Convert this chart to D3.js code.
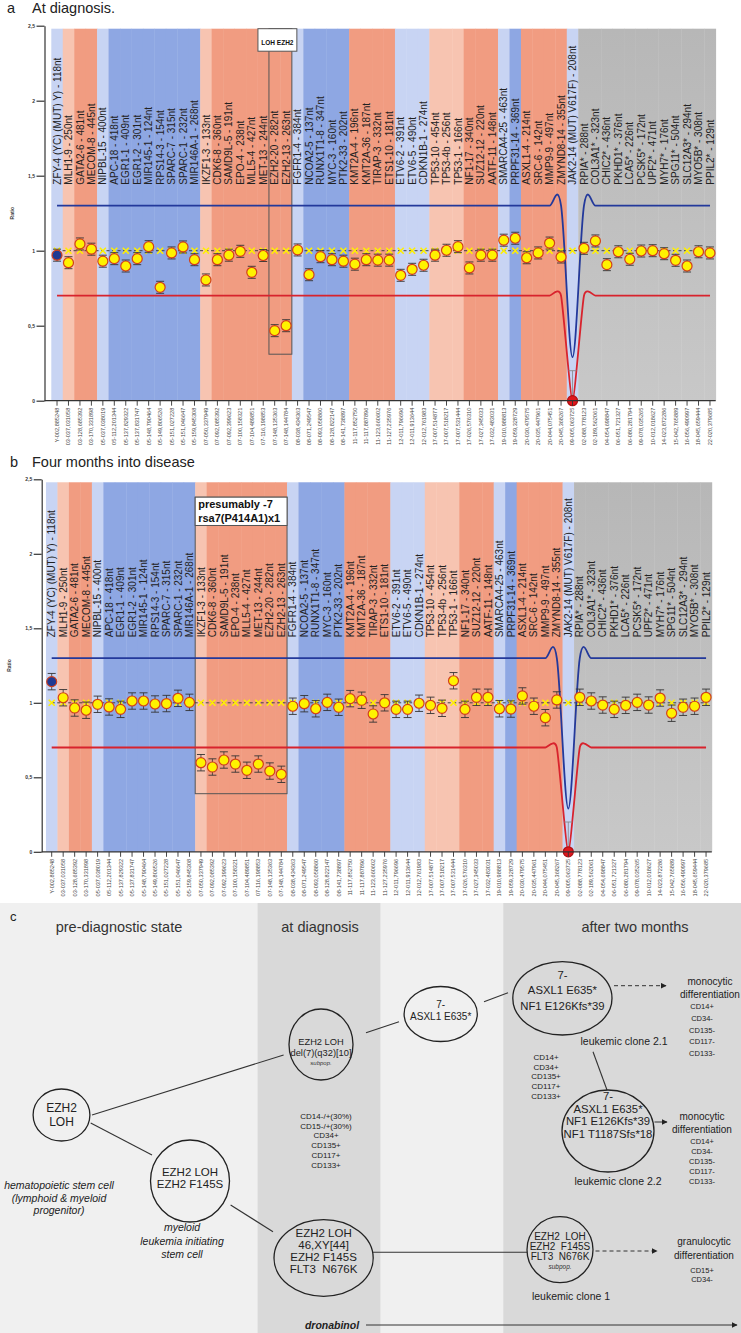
<!DOCTYPE html>
<html><head><meta charset="utf-8">
<script src="https://cdn.jsdelivr.net/npm/d3@7"></script>
<style>
body{margin:0;background:#fff}
svg{display:block}
text{font-family:"Liberation Sans",Arial,Helvetica,sans-serif}
</style>
</head><body>
<svg id="chart" width="741" height="1333"></svg>
<script>
// ---------------- DATA ----------------
const probes = ["ZFY-4 (YC) (MUT) Y) - 118nt","MLH1-9 - 250nt","GATA2-6 - 481nt","MECOM-8 - 445nt","NIPBL-15 - 400nt","APC-18 - 418nt","EGR1-1 - 409nt","EGR1-2 - 301nt","MIR145-1 - 124nt","RPS14-3 - 154nt","SPARC-7 - 315nt","SPARC-1 - 232nt","MIR146A-1 - 268nt","IKZF1-3 - 133nt","CDK6-8 - 360nt","SAMD9L-5 - 191nt","EPO-4 - 238nt","MLL5-4 - 427nt","MET-13 - 244nt","EZH2-20 - 282nt","EZH2-13 - 263nt","FGFR1-4 - 384nt","NCOA2-5 - 137nt","RUNX1T1-8 - 347nt","MYC-3 - 160nt","PTK2-33 - 202nt","KMT2A-4 - 196nt","KMT2A-36 - 187nt","TIRAP-3 - 332nt","ETS1-10 - 181nt","ETV6-2 - 391nt","ETV6-5 - 490nt","CDKN1B-1 - 274nt","TP53-10 - 454nt","TP53-4b - 256nt","TP53-1 - 166nt","NF1-17 - 340nt","SUZ12-12 - 220nt","AATF-11 - 148nt","SMARCA4-25 - 463nt","PRPF31-14 - 369nt","ASXL1-4 - 214nt","SRC-6 - 142nt","MMP9-9 - 497nt","ZMYND8-14 - 355nt","JAK2-14 (MUT) V617F) - 208nt","RPIA* - 288nt","COL3A1* - 323nt","CHIC2* - 436nt","PKHD1* - 376nt","LCA5* - 226nt","PCSK5* - 172nt","UPF2* - 471nt","MYH7* - 176nt","SPG11* - 504nt","SLC12A3* - 294nt","MYO5B* - 308nt","PPIL2* - 129nt"];

const chromPos = ["Y-002,885248","03-037,031058","03-128,685392","03-170,331898","05-037,038019","05-112,201344","05-137,829322","05-137,831747","05-148,790464","05-149,806526","05-151,027228","05-151,046647","05-159,845308","07-050,337949","07-092,085392","07-092,399623","07-100,158321","07-104,489851","07-116,198853","07-148,135363","07-148,144784","08-038,434363","08-071,249547","08-093,058860","08-128,822147","08-141,738897","11-117,852750","11-117,887896","11-123,660602","11-127,235976","12-011,796696","12-011,913644","12-012,761983","17-007,514877","17-007,518217","17-007,531444","17-026,576310","17-027,345033","17-032,483031","19-010,988813","19-059,328729","20-030,479575","20-035,447961","20-044,075451","20-045,368267","09-005,063725","02-088,778123","02-189,562061","04-054,698847","06-051,721327","06-080,281794","09-078,035265","10-012,018627","14-023,872286","15-042,765889","16-056,490997","18-045,659444","22-020,379685"];

const bandType = ["lb","ls","s","s","lb","b","b","b","b","b","b","b","b","ls","s","s","s","s","s","s","s","lb","b","b","b","b","s","s","s","s","lb","lb","lb","ls","ls","ls","s","s","s","lb","b","s","s","s","s","lb","g","g","g","g","g","g","g","g","g","g","g","g"];

const ratioA = [0.97,0.92,1.045,1.01,0.93,0.947,0.898,0.947,1.027,0.756,0.985,1.025,0.94,0.805,0.94,0.97,0.996,0.856,0.968,0.467,0.50,1.005,0.84,0.96,0.94,0.93,0.91,0.94,0.937,0.937,0.836,0.876,0.903,0.97,1.003,1.027,0.885,0.97,0.97,1.07,1.083,0.953,0.985,1.051,0.958,0,1.016,1.065,0.907,0.993,0.943,0.998,1.0,0.98,0.936,0.898,0.993,0.985];

const ratioB = [1.142,1.034,0.965,0.95,0.99,0.972,0.956,1.012,1.012,0.992,0.995,1.03,1.003,0.598,0.569,0.616,0.589,0.547,0.589,0.542,0.52,0.977,0.994,0.96,1.003,0.97,1.028,1.017,0.925,1.0,0.956,0.956,0.997,0.983,0.963,1.148,0.956,1.037,1.037,0.96,0.958,1.046,0.977,0.9,1.019,0,1.037,1.012,0.985,0.956,0.983,1.003,0.985,1.032,0.93,0.97,0.977,1.037];

const upperLimit = [1.3,1.3,1.3,1.3,1.3,1.3,1.3,1.3,1.3,1.3,1.3,1.3,1.3,1.3,1.3,1.3,1.3,1.3,1.3,1.3,1.3,1.3,1.3,1.3,1.3,1.3,1.3,1.3,1.3,1.3,1.3,1.3,1.3,1.3,1.3,1.3,1.3,1.3,1.3,1.3,1.3,1.3,1.3,1.3,1.3,0.29,1.3,1.3,1.3,1.3,1.3,1.3,1.3,1.3,1.3,1.3,1.3,1.3];
const lowerLimit = [0.7,0.7,0.7,0.7,0.7,0.7,0.7,0.7,0.7,0.7,0.7,0.7,0.7,0.7,0.7,0.7,0.7,0.7,0.7,0.7,0.7,0.7,0.7,0.7,0.7,0.7,0.7,0.7,0.7,0.7,0.7,0.7,0.7,0.7,0.7,0.7,0.7,0.7,0.7,0.7,0.7,0.7,0.7,0.7,0.7,0,0.7,0.7,0.7,0.7,0.7,0.7,0.7,0.7,0.7,0.7,0.7,0.7];

const yTicks = [0,0.5,1,1.5,2,2.5];
const errA = 0.04, errB = 0.055, errJak = 0.2;

// panel c content
const cHeaders = ["pre-diagnostic state","at diagnosis","after two months"];
const cNodes = [
  {id:"loh",   lines:["EZH2","LOH"]},
  {id:"f145s", lines:["EZH2 LOH","EZH2 F145S"]},
  {id:"del7",  lines:["EZH2 LOH","del(7)(q32)[10]"], sub:"subpop."},
  {id:"diag",  lines:["EZH2 LOH","46,XY[44]","EZH2 F145S","FLT3  N676K"]},
  {id:"asxl",  lines:["7-","ASXL1 E635*"]},
  {id:"c21",   lines:["7-","ASXL1 E635*","NF1 E126Kfs*39"]},
  {id:"c22",   lines:["7-","ASXL1 E635*","NF1 E126Kfs*39","NF1 T1187Sfs*18"]},
  {id:"c1",    lines:["EZH2  LOH","EZH2  F145S","FLT3  N676K"], sub:"subpop."}
];
const cdDiag = ["CD14-/+(30%)","CD15-/+(30%)","CD34+","CD135+","CD117+","CD133+"];
const cdClone2 = ["CD14+","CD34+","CD135+","CD117+","CD133+"];
const cdMono = ["CD14+","CD34-","CD135-","CD117-","CD133-"];
const cdGran = ["CD15+","CD34-"];

// ---------------- STYLE ----------------
const bandColor = {lb:"#c8d4f3", b:"#8ea7e3", ls:"#f7c4b1", s:"#f19c81", g:"url(#grayGrad)"};
const svg = d3.select("#chart");
const defs = svg.append("defs");
const gg = defs.append("linearGradient").attr("id","grayGrad").attr("x1",0).attr("y1",0).attr("x2",0).attr("y2",1);
gg.append("stop").attr("offset","0%").attr("stop-color","#b7b7b7");
gg.append("stop").attr("offset","100%").attr("stop-color","#c8c8c8");
defs.append("marker").attr("id","ah").attr("viewBox","0 0 10 10").attr("refX",9).attr("refY",5)
  .attr("markerWidth",6).attr("markerHeight",6).attr("orient","auto")
  .append("path").attr("d","M0,0L10,5L0,10z").attr("fill","#222");

function panel(cfg){
  const g = svg.append("g");
  const x = d3.scaleBand().domain(probes).range(cfg.xr);
  const y = d3.scaleLinear().domain([0,2.5]).range(cfg.yr);
  const bw = x.bandwidth();
  const cx = p => x(p) + bw/2;

  g.append("text").attr("x",cfg.letterX).attr("y",cfg.titleY).attr("font-size",14.5).attr("fill","#222").text(cfg.letter);
  g.append("text").attr("x",32).attr("y",cfg.titleY).attr("font-size",14.5).attr("fill","#222").text(cfg.title);

  g.selectAll("rect.band").data(probes).join("rect").attr("class","band")
    .attr("x",p=>x(p)).attr("width",bw+0.4)
    .attr("y",y(2.48)).attr("height",y(0)-y(2.48))
    .attr("fill",(p,i)=>bandColor[bandType[i]]);

  g.selectAll("text.probe").data(probes).join("text").attr("class","probe")
    .attr("transform",p=>`translate(${cx(p)+3.6},${y(1.44)}) rotate(-90)`)
    .attr("font-size",10).attr("fill","#222").text(p=>p);

  // highlight box
  const b = cfg.box;
  const bx1 = x(probes[b.from]), bx2 = x(probes[b.to]) + bw;
  g.append("rect").attr("x",bx1).attr("y",y(b.top)).attr("width",bx2-bx1).attr("height",y(b.bottom)-y(b.top))
    .attr("fill","none").attr("stroke","#555").attr("stroke-width",1);
  const lx1 = bx1 - b.padL, lx2 = bx2 + b.padR;
  g.append("rect").attr("x",lx1).attr("y",y(b.top)).attr("width",lx2-lx1).attr("height",y(b.labelBottom)-y(b.top))
    .attr("fill","#fff").attr("stroke","#555").attr("stroke-width",1);
  b.lines.forEach((t,k)=>{
    g.append("text").attr("x", b.anchor==="middle" ? (lx1+lx2)/2 : lx1+3)
      .attr("y", y(b.lineY[k])).attr("text-anchor",b.anchor)
      .attr("font-size",b.fs).attr("font-weight","bold").attr("fill","#111").text(t);
  });

  // reference line at 1
  g.append("line").attr("x1",cx(probes[0])).attr("x2",cx(probes[probes.length-1]))
    .attr("y1",y(1)).attr("y2",y(1)).attr("stroke","#444").attr("stroke-width",1).attr("stroke-dasharray","3,2.5");
  g.selectAll("path.ref").data(probes).join("path").attr("class","ref")
    .attr("transform",p=>`translate(${cx(p)},${y(1)})`)
    .attr("d","M-3,-3L3,3M-3,3L3,-3")
    .attr("stroke","#fff000").attr("stroke-width",1.6).attr("fill","none");

  // limit lines
  const lg = t => d3.line().x((v,i)=>cx(probes[i])).y(v=>y(v)).curve(d3.curveCardinal.tension(t));
  g.append("path").datum(upperLimit).attr("d",lg(0)).attr("fill","none").attr("stroke","#23399b").attr("stroke-width",1.8);
  g.append("path").datum(lowerLimit).attr("d",lg(0.45)).attr("fill","none").attr("stroke","#d8232d").attr("stroke-width",1.8);

  // points
  const pts = g.selectAll("g.pt").data(cfg.ratios).join("g").attr("class","pt")
    .attr("transform",(v,i)=>`translate(${cx(probes[i])},0)`);
  pts.each(function(v,i){
    const s = d3.select(this);
    const e = v===0 ? errJak : cfg.err;
    const top = y(v+e), bot = y(Math.max(0,v-e));
    s.append("line").attr("y1",top).attr("y2",bot).attr("stroke", v===0?"#888":"#333").attr("stroke-width",0.8);
    s.append("line").attr("x1",-4).attr("x2",4).attr("y1",top).attr("y2",top).attr("stroke",v===0?"#888":"#333").attr("stroke-width",0.9);
    if(v>0) s.append("line").attr("x1",-4).attr("x2",4).attr("y1",bot).attr("y2",bot).attr("stroke","#333").attr("stroke-width",0.9);
    s.append("circle").attr("cy",y(v)).attr("r",5)
      .attr("fill", i===0 ? "#1f3a93" : (v===0 ? "#e0161c" : "#fff200"))
      .attr("stroke", v===0 ? "#b00f12" : "#d2401c").attr("stroke-width",1.2);
  });

  // axes
  const ya = d3.axisLeft(y).tickValues(yTicks).tickSize(8).tickSizeOuter(0).tickFormat(d=>String(d).replace(".",","));
  g.append("g").attr("transform",`translate(${cfg.axisX},0)`).call(ya)
    .call(a=>{a.selectAll("text").attr("font-size",5).attr("font-weight","bold").attr("fill","#333").attr("x",-9.5);
              a.selectAll("line,path").attr("stroke","#333").attr("stroke-width",1.2);});
  const xa = d3.axisBottom(x).tickSize(5).tickSizeOuter(0).tickFormat((d,i)=>chromPos[i]);
  const xg = g.append("g").attr("transform",`translate(0,${y(0)})`).call(xa);
  xg.select(".domain").remove();
  xg.selectAll("line").attr("stroke","#333").attr("stroke-width",0.9);
  xg.selectAll("text").attr("transform","rotate(-90)").attr("text-anchor","end")
    .attr("x",-7).attr("y",0).attr("dy","0.35em").attr("font-size",5.6).attr("fill","#444");
  g.append("line").attr("x1",cfg.axisX).attr("x2",cfg.xr[1]).attr("y1",y(0)).attr("y2",y(0))
    .attr("stroke","#333").attr("stroke-width",1.2);
  g.append("text").attr("transform",`translate(${cfg.axisX-31},${y(1.25)}) rotate(-90)`).attr("text-anchor","middle")
    .attr("font-size",5).attr("font-weight","bold").attr("fill","#333").text("Ratio");
}

panel({letter:"a", letterX:7, title:"At diagnosis.", titleY:13, xr:[51.3,715.7], yr:[400.7,25.7], axisX:44.5,
  ratios:ratioA, err:errA,
  box:{from:19,to:20,top:2.48,bottom:0.31,labelBottom:2.33,padL:11,padR:5,lines:["LOH EZH2"],lineY:[2.37],fs:6.5,anchor:"middle"}});
panel({letter:"b", letterX:10, title:"Four months into disease", titleY:467, xr:[45.96,711.8], yr:[851.8,479.3], axisX:41.7,
  ratios:ratioB, err:errB,
  box:{from:13,to:20,top:2.38,bottom:0.39,labelBottom:2.19,padL:0,padR:0,lines:["presumably -7","rsa7(P414A1)x1"],lineY:[2.305,2.215],fs:11,anchor:"start"}});

// ---------------- PANEL C ----------------
const gc = svg.append("g");
const cBg = [{x:0,w:741,f:"#f0f0f0"},{x:257.6,w:122.8,f:"#d9d9d9"},{x:503.3,w:237.7,f:"#d9d9d9"}];
gc.selectAll("rect.bg").data(cBg).join("rect").attr("x",d=>d.x).attr("width",d=>d.w).attr("y",903).attr("height",430).attr("fill",d=>d.f);
gc.append("text").attr("x",10).attr("y",921).attr("font-size",13).attr("fill","#222").text("c");
const hdrX = [119,320,635];
cHeaders.forEach((h,i)=>gc.append("text").attr("x",hdrX[i]).attr("y",932).attr("text-anchor","middle").attr("font-size",14.5).attr("fill","#333").text(h));

const layout = {
  loh:  {cx:61.5, cy:1115, rx:28.4, ry:26,  fs:12,   ty:1108,   lh:14},
  f145s:{cx:190,  cy:1181, rx:39.5, ry:41,  fs:11.5, ty:1171.7, lh:12.6},
  del7: {cx:321,  cy:1044.5,rx:32,  ry:35.5,fs:9.3,  ty:1041.7, lh:11.3, sy:1062.7, sfs:6},
  diag: {cx:323.6,cy:1258, rx:49.6, ry:38.3,fs:11.5, ty:1233.3, lh:11.7},
  asxl: {cx:440.7,cy:1014, rx:36.6, ry:27.5,fs:10,   ty:1004,   lh:12.7},
  c21:  {cx:562.4,cy:998.3,rx:49.6, ry:36.7,fs:11.3, ty:975,    lh:15.3},
  c22:  {cx:608,  cy:1131, rx:46,   ry:41,  fs:11.3, ty:1096,   lh:12.5},
  c1:   {cx:560,  cy:1249.7,rx:33,  ry:33,  fs:10,   ty:1236.7, lh:9.6, sy:1266.7, sfs:6.5}
};
const links = [
  {x1:92,y1:1115,x2:283.6,y2:1055},
  {x1:90.7,y1:1123,x2:152,y2:1155},
  {x1:230.6,y1:1205,x2:273,y2:1231.7},
  {x1:366,y1:1032.7,x2:399,y2:1021.7},
  {x1:484,y1:1001.7,x2:508,y2:992.7},
  {x1:593,y1:1051.7,x2:607,y2:1090},
  {x1:373,y1:1252.3,x2:527,y2:1252.3}
];
gc.selectAll("line.lk").data(links).join("line").attr("x1",d=>d.x1).attr("y1",d=>d.y1).attr("x2",d=>d.x2).attr("y2",d=>d.y2)
  .attr("stroke","#333").attr("stroke-width",1.1);
const arrows = [
  {x1:614,y1:985.7,x2:666,y2:985.7,dash:"4,3"},
  {x1:595.5,y1:1251,x2:657,y2:1251,dash:"4,3"},
  {x1:654.5,y1:1122,x2:667,y2:1122,dash:null},
  {x1:366,y1:1325,x2:737,y2:1325,dash:null}
];
gc.selectAll("line.ar").data(arrows).join("line").attr("x1",d=>d.x1).attr("y1",d=>d.y1).attr("x2",d=>d.x2).attr("y2",d=>d.y2)
  .attr("stroke","#333").attr("stroke-width",1).attr("stroke-dasharray",d=>d.dash).attr("marker-end","url(#ah)");

cNodes.forEach(n=>{
  const L = layout[n.id];
  gc.append("ellipse").attr("cx",L.cx).attr("cy",L.cy).attr("rx",L.rx).attr("ry",L.ry)
    .attr("fill","none").attr("stroke","#222").attr("stroke-width",1.3);
  n.lines.forEach((t,k)=>gc.append("text").attr("x",L.cx).attr("y",L.ty+k*L.lh+0.36*L.fs)
    .attr("text-anchor","middle").attr("font-size",L.fs).attr("fill","#222").style("white-space","pre").text(t));
  if(n.sub) gc.append("text").attr("x",L.cx).attr("y",L.sy+0.36*L.sfs).attr("text-anchor","middle")
    .attr("font-size",L.sfs).attr("font-style","italic").attr("fill","#333").text(n.sub);
});

function textBlock(lines, x, y0, lh, fs, opts={}){
  lines.forEach((t,k)=>gc.append("text").attr("x",x).attr("y",y0+k*lh+0.36*fs).attr("text-anchor","middle")
    .attr("font-size",fs).attr("fill",opts.fill||"#222").attr("font-style",opts.italic?"italic":null)
    .attr("font-weight",opts.bold?"bold":null).text(t));
}
textBlock(cdDiag, 326, 1116, 9.8, 8);
textBlock(cdClone2, 546, 1057, 9.7, 8);
textBlock(["monocytic","differentiation"], 710, 981.7, 12.3, 10);
textBlock(cdMono, 702, 1006.7, 11.6, 7.5);
textBlock(["leukemic clone 2.1"], 624, 1041, 0, 10.5);
textBlock(["monocytic","differentiation"], 702, 1116.7, 12.3, 10);
textBlock(cdMono, 702, 1141.7, 9.8, 7.5);
textBlock(["leukemic clone 2.2"], 618, 1181.7, 0, 10.5);
textBlock(["granulocytic","differentiation"], 704, 1241.7, 13.3, 10);
textBlock(cdGran, 702, 1270, 9.3, 7.5);
textBlock(["leukemic clone 1"], 571, 1296.7, 0, 10.5);
textBlock(["hematopoietic stem cell","(lymphoid & myeloid","progenitor)"], 59, 1185.7, 12.5, 10.5, {italic:true});
textBlock(["myeloid","leukemia initiating","stem cell"], 182, 1227.7, 13.2, 10.5, {italic:true});
textBlock(["dronabinol"], 332, 1325, 0, 10.5, {italic:true, bold:true});
</script>
</body></html>
